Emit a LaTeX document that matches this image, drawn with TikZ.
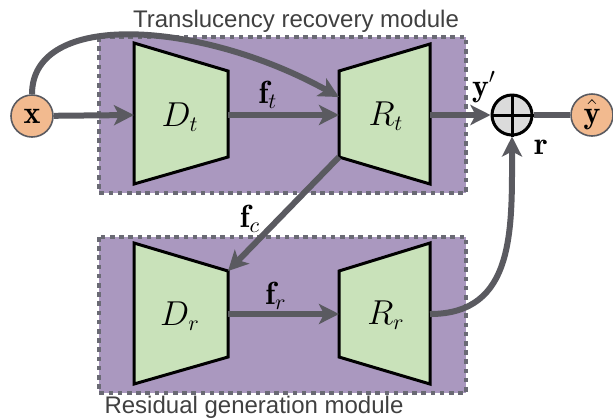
\documentclass[tikz,border=0pt]{standalone}
\usepackage{amsmath}
\usepackage{fontspec}
\setsansfont{Liberation Sans}
\usetikzlibrary{arrows.meta, positioning, calc}
\definecolor{modpurple}{HTML}{AA98BF}
\definecolor{netgreen}{HTML}{C9E2BA}
\definecolor{ioorange}{HTML}{F2BA8F}
\definecolor{flowgray}{HTML}{5A5A60}
\definecolor{dotgray}{HTML}{6A6A74}

\tikzset{
  module/.style={fill=modpurple, draw=dotgray, line width=2.4pt, dash pattern=on 2.3pt off 2.3pt},
  net/.style={fill=netgreen, draw=black, line width=1.5pt, line join=miter},
  flow/.style={draw=flowgray, line width=3pt, -{Stealth[length=10pt, width=10pt, inset=2.5pt]}},
  io/.style={circle, fill=ioorange, draw=flowgray, line width=0.8pt, minimum size=21pt, inner sep=0pt},
  modlabel/.style={font=\sffamily\fontsize{12}{14}\selectfont, text=black!75},
  sym/.style={font=\fontsize{16}{18}\selectfont},
}

\begin{document}
\begin{tikzpicture}[x=0.5pt, y=-0.5pt]
  \useasboundingbox (0,0) rectangle (613,419);

  % Modules
  \path[module] (99,37) rectangle (466,193);
  \node[modlabel] (toplbl) at (296,21) {Translucency recovery module};
  \path[module] (99,237) rectangle (466,393);
  \node[modlabel] (botlbl) at (254,407) {Residual generation module};

  % Encoders / decoders
  \draw[net] (134,43) -- (228,71) -- (228,157) -- (134,184) -- cycle;
  \node[sym] (Dt) at (180,117) {$D_t$};
  \draw[net] (339,71) -- (430,44) -- (430,184) -- (339,157) -- cycle;
  \node[sym] (Rt) at (386,116) {$R_t$};
  \draw[net] (134,243) -- (228,271) -- (228,357) -- (134,384) -- cycle;
  \node[sym] (Dr) at (180,316) {$D_r$};
  \draw[net] (339,271) -- (430,243) -- (430,384) -- (339,357) -- cycle;
  \node[sym] (Rr) at (386,315) {$R_r$};

  \coordinate (Dt-in) at (134,115);
  \coordinate (Dt-out) at (228,115);
  \coordinate (Rt-in) at (339,115);
  \coordinate (Rt-skip) at (339,97);
  \coordinate (Rt-out) at (430,115);
  \coordinate (Rt-corner) at (339,157);
  \coordinate (Dr-corner) at (228,271);
  \coordinate (Dr-out) at (228,314);
  \coordinate (Rr-in) at (339,314);
  \coordinate (Rr-out) at (430,314);

  % Input, sum, output
  \node[io, sym] (x) at (32,116) {$\mathbf{x}$};
  \node[circle, fill=gray!28, draw=black, line width=1.5pt, minimum size=20pt, inner sep=0pt] (sum) at (512,115) {};
  \draw[line width=1.5pt] (sum.north) -- (sum.south) (sum.west) -- (sum.east);
  \node[io, sym] (yhat) at (592,115) {$\hat{\mathbf{y}}$};

  % Connections
  \draw[flow] (x) -- (Dt-in);
  \draw[flow] (x.north) .. controls (32,10) and (200,20) .. (Rt-skip);
  \draw[flow] (Dt-out) -- (Rt-in);
  \draw[flow] (Rt-out) -- (sum.west);
  \draw[draw=flowgray, line width=3pt] (sum.east) -- (yhat.west);
  \draw[flow] (Rt-corner) -- (Dr-corner);
  \draw[flow] (Dr-out) -- (Rr-in);
  \draw[flow] (Rr-out) .. controls (515,314) and (512,230) .. (sum.south);

  % Labels
  \node[sym] (ft) at (268,95) {$\mathbf{f}_t$};
  \node[sym] (fc) at (250,219) {$\mathbf{f}_c$};
  \node[sym] (fr) at (276,296) {$\mathbf{f}_r$};
  \node[sym] (yp) at (484,87) {$\mathbf{y}'$};
  \node[sym] (rr) at (541,147) {$\mathbf{r}$};
\end{tikzpicture}
\end{document}
